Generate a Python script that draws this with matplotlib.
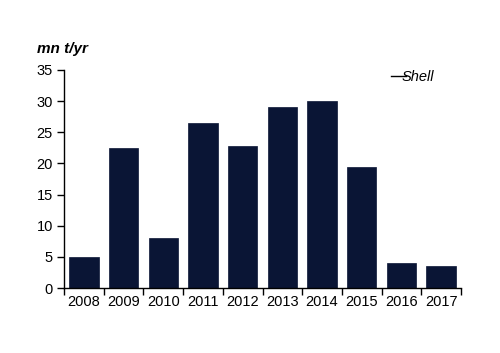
import matplotlib
matplotlib.use("Agg")
import matplotlib.pyplot as plt
from matplotlib.lines import Line2D

years = ["2008", "2009", "2010", "2011", "2012", "2013", "2014", "2015", "2016", "2017"]
values = [5, 22.5, 8, 26.5, 22.8, 29, 30, 19.5, 4, 3.5]
yticks = [0, 5, 10, 15, 20, 25, 30, 35]

plt.rcParams['font.family'] = ['Liberation Sans', 'DejaVu Sans']
fig = plt.figure(figsize=(5, 3.53), dpi=100)
ax = fig.add_axes([0.128, 0.184, 0.794, 0.618])
x = list(range(len(years)))
ax.bar(x, values, width=0.74, color='#0a1535', edgecolor='#0a1535', linewidth=0.5, label='Shell')
ax.set_xlim(-0.5, len(years) - 0.5)
ax.set_ylim(0, 35)
ax.set_yticks(yticks)
ax.set_yticklabels([str(t) for t in yticks], fontsize=10.5)
ax.set_xticks(x)
ax.set_xticklabels(years, fontsize=10.5)
ax.tick_params(axis='x', length=0, pad=5)
ax.set_xticks([i - 0.5 for i in range(len(years) + 1)], minor=True)
ax.tick_params(axis='x', which='minor', length=5, direction='out', width=1)
ax.tick_params(axis='y', length=5, direction='out', width=1, pad=3)
for s in ['top', 'right']:
    ax.spines[s].set_visible(False)
ax.spines['left'].set_linewidth(1)
ax.spines['bottom'].set_linewidth(1)
fig.text(0.074, 0.85, 'mn t/yr', fontsize=11, fontweight='bold', fontstyle='italic')
handle = Line2D([0], [0], color='black', lw=1)
leg = ax.legend([handle], ['Shell'], loc='upper right', bbox_to_anchor=(0.965, 1.06),
                frameon=False, handlelength=1.0, handletextpad=-0.3,
                prop={'style': 'italic', 'size': 10.5})
fig.savefig('out.png', dpi=100)
